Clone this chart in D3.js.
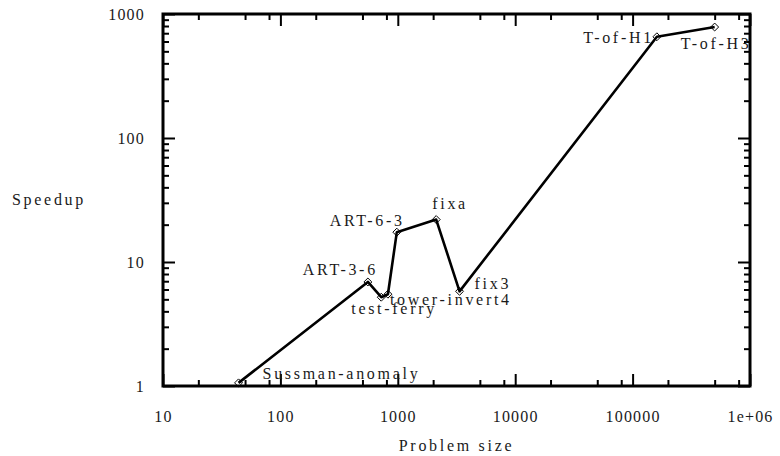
<!DOCTYPE html>
<html>
<head>
<meta charset="utf-8">
<script src="https://cdn.jsdelivr.net/npm/d3@7/dist/d3.min.js"></script>
<style>
  body { margin: 0; background: #fff; }
  svg text { font-family: "Liberation Serif", "DejaVu Serif", serif; fill: #1a1a1a; }
  .lbl { font-size: 16px; letter-spacing: 2.7px; }
  .tick text { font-size: 16px; letter-spacing: 1.2px; }
</style>
</head>
<body>
<svg id="chart" width="780" height="456"></svg>
<script>
// problem size vs. speedup
const names = ['Sussman-anomaly', 'ART-3-6', 'test-ferry', 'tower-invert4', 'ART-6-3', 'fixa', 'fix3', 'T-of-H1', 'T-of-H3'];
const sizes = [44, 556, 723, 824, 981, 2124, 3357, 161000, 500000];
const speedups = [1.06, 6.9, 5.2, 5.5, 17.4, 22, 5.8, 655, 785];

const xTicks = [10, 100, 1000, 10000, 100000, 1000000];
const xTickLabels = ['10', '100', '1000', '10000', '100000', '1e+06'];
const yTicks = [1, 10, 100, 1000];
const yTickLabels = ['1', '10', '100', '1000'];

// label placement next to each point: [anchor, dx, dy]
const labelPos = [
  ['start', 24, -4],
  ['end', 10, -7],
  ['start', -30, 17],
  ['start', 2, 11],
  ['end', 8, -6],
  ['start', -4, -11],
  ['start', 15, -2],
  ['end', -3, 6],
  ['start', -34, 22]
];

var svg = d3.select('#chart');
var pL = 163, pR = 750, pT = 14, pB = 386;

var x = d3.scaleLog().domain([10, 1e6]).range([pL, pR]);
var y = d3.scaleLog().domain([1, 1000]).range([pB, pT]);

// minor ticks: x at 2,5,8 per decade, y at 2..9
var xMinor = [];
for (var d = 10; d < 1e6; d *= 10) [2, 5, 8].forEach(m => xMinor.push(d * m));
var yMinor = [];
for (var e = 1; e < 1000; e *= 10) d3.range(2, 10).forEach(m => yMinor.push(e * m));

function styleAxis(g) {
  g.select('.domain').remove();
  g.selectAll('.tick line').attr('stroke', '#000').attr('stroke-width', 2);
}

// bottom
svg.append('g')
  .attr('transform', 'translate(0,' + pB + ')')
  .call(d3.axisBottom(x).tickValues(xTicks).tickSize(-12)
    .tickFormat((d, i) => xTickLabels[i]))
  .call(styleAxis)
  .call(g => g.selectAll('.tick text').attr('font-family', null).attr('font-size', null).attr('dy', '0.32em').attr('y', 31));
svg.append('g')
  .attr('transform', 'translate(0,' + pB + ')')
  .call(d3.axisBottom(x).tickValues(xMinor).tickSize(-6).tickFormat(''))
  .call(styleAxis);
// top
svg.append('g')
  .attr('transform', 'translate(0,' + pT + ')')
  .call(d3.axisTop(x).tickValues(xTicks).tickSize(-12).tickFormat(''))
  .call(styleAxis);
svg.append('g')
  .attr('transform', 'translate(0,' + pT + ')')
  .call(d3.axisTop(x).tickValues(xMinor).tickSize(-6).tickFormat(''))
  .call(styleAxis);
// left
svg.append('g')
  .attr('transform', 'translate(' + pL + ',0)')
  .call(d3.axisLeft(y).tickValues(yTicks).tickSize(-12)
    .tickFormat((d, i) => yTickLabels[i]))
  .call(styleAxis)
  .call(g => g.selectAll('.tick text').attr('font-family', null).attr('font-size', null).attr('x', -18));
svg.append('g')
  .attr('transform', 'translate(' + pL + ',0)')
  .call(d3.axisLeft(y).tickValues(yMinor).tickSize(-6).tickFormat(''))
  .call(styleAxis);
// right
svg.append('g')
  .attr('transform', 'translate(' + pR + ',0)')
  .call(d3.axisRight(y).tickValues(yTicks).tickSize(-12).tickFormat(''))
  .call(styleAxis);
svg.append('g')
  .attr('transform', 'translate(' + pR + ',0)')
  .call(d3.axisRight(y).tickValues(yMinor).tickSize(-6).tickFormat(''))
  .call(styleAxis);

// frame
svg.append('rect')
  .attr('x', pL).attr('y', pT)
  .attr('width', pR - pL).attr('height', pB - pT)
  .attr('fill', 'none').attr('stroke', '#000').attr('stroke-width', 3);

var pts = sizes.map((s, i) => ({ name: names[i], x: s, y: speedups[i], pos: labelPos[i] }));

var line = d3.line().x(d => x(d.x)).y(d => y(d.y));
svg.append('path')
  .datum(pts)
  .attr('d', line)
  .attr('fill', 'none')
  .attr('stroke', '#000')
  .attr('stroke-width', 2.6)
  .attr('stroke-linejoin', 'round');

var diamond = d3.symbol().type(d3.symbolDiamond2).size(40);
svg.selectAll('.pt')
  .data(pts)
  .enter()
  .append('path')
  .attr('class', 'pt')
  .attr('transform', d => 'translate(' + x(d.x) + ',' + y(d.y) + ')')
  .attr('d', diamond)
  .attr('fill', 'none')
  .attr('stroke', '#000')
  .attr('stroke-width', 1);

svg.selectAll('.name')
  .data(pts)
  .enter()
  .append('text')
  .attr('class', 'lbl')
  .attr('x', d => x(d.x) + d.pos[1])
  .attr('y', d => y(d.y) + d.pos[2])
  .attr('text-anchor', d => d.pos[0])
  .text(d => d.name);

// axis titles
svg.append('text')
  .attr('class', 'lbl')
  .attr('x', 12).attr('y', 205)
  .text('Speedup');
svg.append('text')
  .attr('class', 'lbl')
  .attr('x', (pL + pR) / 2).attr('y', 451)
  .attr('text-anchor', 'middle')
  .text('Problem size');
</script>
</body>
</html>
